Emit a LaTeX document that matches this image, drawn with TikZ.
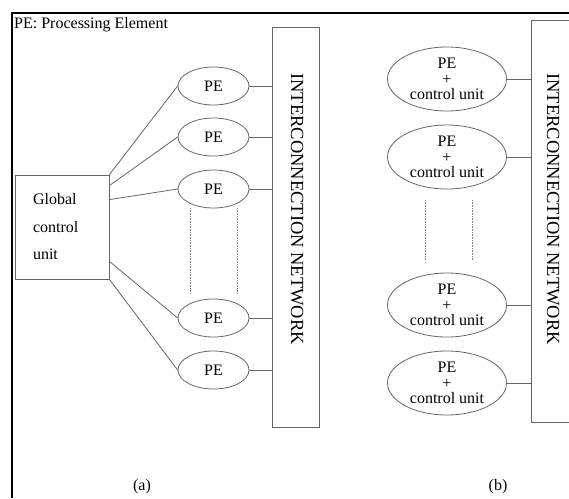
\documentclass[tikz,border=0pt]{standalone}
\usepackage{fontspec}
\setmainfont{Liberation Serif}
\usetikzlibrary{shapes.geometric}

\begin{document}
\begin{tikzpicture}[x=1pt, y=-1pt,
    font=\fontsize{16}{19}\selectfont,
    wire/.style={draw=black!60, line width=0.8pt},
    pe/.style={ellipse, wire, minimum width=71pt, minimum height=38pt, inner sep=0pt},
    pecu/.style={ellipse, wire, minimum width=119pt, minimum height=64pt, inner sep=0pt,
      align=center, font=\fontsize{16}{15.5}\selectfont},
    net/.style={rectangle, wire, minimum width=47pt, minimum height=400pt},
    netlabel/.style={rotate=-90, anchor=west, inner sep=0pt, font=\fontsize{18.5}{20}\selectfont},
    dots/.style={draw=black!50, densely dotted, line width=0.6pt}]
      \clip (0,0) rectangle (569,498);
      \fill[white] (0,0) rectangle (569,498);
      \draw[line width=2pt] (12,498) -- (12,13) -- (569,13);

      \node (T) [anchor=base west, inner sep=0pt] at (14,28.5) {PE: Processing Element};

      \node (G) [rectangle, wire, minimum width=94pt, minimum height=104pt, text width=58pt,
        align=left, font=\fontsize{16}{27.5}\selectfont] at (62,227) {Global\\control\\unit};
      \foreach \i/\y in {1/86, 2/137, 3/189, 4/318, 5/370}
        \node (P\i) [pe] at (213.5,\y) {PE};
      \node (N) [net] at (295.5,227) {};
      \node (NL) [netlabel] at (297,73) {INTERCONNECTION NETWORK};

      \foreach \i in {1,...,5}
        \draw[wire] (P\i.east) -- (P\i.east -| N.west);
      \draw[wire] (G.north east) -- (P1.west);
      \draw[wire] ([yshift=-11pt]G.north east) -- (P2.west);
      \draw[wire] ([yshift=-25pt]G.north east) -- (P3.west);
      \draw[wire] ([yshift=18pt]G.south east) -- (P4.west);
      \draw[wire] (G.south east) -- (P5.west);
      \draw[dots] (190,208) -- (190,293);
      \draw[dots] (237,208) -- (237,293);

      \foreach \i/\y in {1/79, 2/157, 3/305, 4/383}
        \node (Q\i) [pecu] at (447,\y) {PE\\+\\control unit};
      \node (M) [net, minimum height=402pt] at (554.5,221) {};
      \node (ML) [netlabel] at (553,73) {INTERCONNECTION NETWORK};

      \foreach \i in {1,...,4}
        \draw[wire] (Q\i.east) -- (Q\i.east -| M.west);
      \draw[dots] (425,200) -- (425,260);
      \draw[dots] (472,200) -- (472,260);

      \node (LA) [inner sep=1pt] at (142,487) {(a)};
      \node (LB) [inner sep=1pt] at (498,487) {(b)};
    \end{tikzpicture}
\end{document}
